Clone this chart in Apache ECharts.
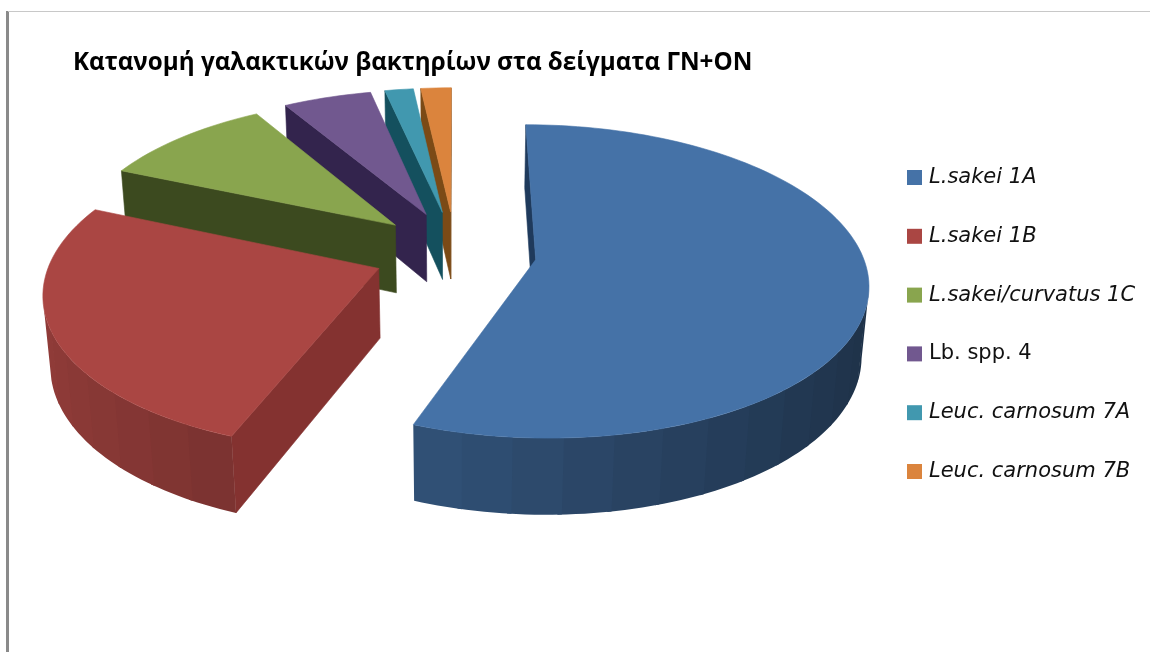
<!DOCTYPE html>
<html>
<head>
<meta charset="utf-8">
<style>html,body{margin:0;padding:0;background:#fff}#chart{width:1150px;height:652px}</style>
<script src="https://cdn.jsdelivr.net/npm/echarts@6/dist/echarts.min.js"></script>
</head>
<body>
<div id="chart"></div>
<script>
// Lactic acid bacteria shares, in percent
const categories = ['L.sakei 1A', 'L.sakei 1B', 'L.sakei/curvatus 1C', 'Lb. spp. 4', 'Leuc. carnosum 7A', 'Leuc. carnosum 7B'];
const shares = [55.8, 25.7, 10, 5.1, 1.65, 1.75];
const colors = ['#4572A7', '#AA4643', '#89A54E', '#71588F', '#4198AF', '#DB843D'];
const cutWallColors = ['#1f3a5c', '#843230', '#3c4a1f', '#33244d', '#14505e', '#7b4a16'];
const upright = [true, true, true, false, true, true];
const titleText = 'Κατανομή γαλακτικών βακτηρίων στα δείγματα ΓΝ+ΟΝ';

// Camera for the tilted pie: world units are pie radii
const view = { cx: 455, cy: 252, scale: 326, dist: 6.4, elev: 27.7 * Math.PI / 180, height: 0.243, explodeX: 0.25, explodeY: 0.275 };
const sinE = Math.sin(view.elev), cosE = Math.cos(view.elev);
const camera = [0, view.dist * cosE, view.dist * sinE];

function project(x, y, z) {
  const depth = y * cosE + z * sinE;
  const vert = y * sinE - z * cosE;
  const k = view.dist / (view.dist - depth);
  return [view.cx + x * view.scale * k, view.cy + vert * view.scale * k];
}

const total = shares.reduce((a, b) => a + b, 0);
const startAngle = i => shares.slice(0, i).reduce((a, b) => a + b, 0) / total * 2 * Math.PI;

// One exploded wedge: visible cut walls, rim strips, then the top face
function wedge(i, value, base) {
  const a0 = startAngle(i), a1 = a0 + value / total * 2 * Math.PI;
  const mid = (a0 + a1) / 2;
  const ax = Math.sin(mid) * view.explodeX, ay = -Math.cos(mid) * view.explodeY;
  const h = -view.height;
  const rim = a => [ax + Math.sin(a), ay - Math.cos(a)];
  const faces = (nx, ny, px, py) => nx * (camera[0] - px) + ny * (camera[1] - py) > 0;
  const children = [];
  const poly = (pts, fill, edge) => children.push({
    type: 'polygon',
    shape: { points: pts.map(p => project(p[0], p[1], p[2])) },
    style: edge ? { fill: fill, stroke: fill, lineWidth: 0.6 } : { fill: fill }
  });
  const cutWall = (a, nx, ny) => {
    if (faces(nx, ny, ax, ay)) {
      const r = rim(a);
      poly([[ax, ay, 0], [r[0], r[1], 0], [r[0], r[1], h], [ax, ay, h]], cutWallColors[i], true);
    }
  };
  cutWall(a0, -Math.cos(a0), -Math.sin(a0));
  cutWall(a1, Math.cos(a1), Math.sin(a1));

  // Rim strips overlap slightly so no background shows through the joins
  const stripSteps = Math.max(2, Math.ceil((a1 - a0) / 0.14));
  for (let s = 0; s < stripSteps; s++) {
    const a = a0 + (a1 - a0) * s / stripSteps;
    const b = a0 + (a1 - a0) * (s + 1) / stripSteps;
    const c = (a + b) / 2;
    const pieces = 6;
    const m = rim(c);
    if (!faces(Math.sin(c), -Math.cos(c), m[0], m[1])) continue;
    const upper = [], lower = [];
    const end = s + 1 < stripSteps ? b + 0.012 : b;
    for (let p = 0; p <= pieces; p++) {
      const r = rim(a + (end - a) * p / pieces);
      upper.push([r[0], r[1], 0]);
      lower.unshift([r[0], r[1], h]);
    }
    const light = 0.64 - 0.21 * Math.sin(c);
    poly(upper.concat(lower), echarts.color.lerp(light, ['#000000', base]), false);
  }

  const steps = Math.max(4, Math.ceil((a1 - a0) / 0.03));
  const topPts = [[ax, ay, 0]];
  for (let s = 0; s <= steps; s++) {
    const r = rim(a0 + (a1 - a0) * s / steps);
    topPts.push([r[0], r[1], 0]);
  }
  poly(topPts, base, true);
  return { type: 'group', children: children };
}

const chart = echarts.init(document.getElementById('chart'), null, { renderer: 'canvas' });
chart.setOption({
  backgroundColor: '#ffffff',
  animation: false,
  title: {
    text: titleText, left: 68, top: 46,
    textStyle: { fontFamily: 'Open Sans', fontWeight: 'bold', fontSize: 24.2, color: '#000000' }
  },
  legend: {
    orient: 'vertical', left: 902, top: 162, icon: 'rect', itemWidth: 15, itemHeight: 15, itemGap: 37.8,
    selectedMode: false,
    textStyle: { fontFamily: 'DejaVu Sans', fontSize: 21, color: '#111111', padding: [0, 0, 0, 2] },
    data: categories.map((name, i) => ({
      name: name,
      textStyle: { fontStyle: upright[i] ? 'italic' : 'normal', padding: [0, 0, 0, 2] }
    }))
  },
  graphic: [
    { type: 'rect', z: 0, shape: { x: 6, y: 11, width: 3, height: 641 }, style: { fill: '#8a8a8a' } },
    { type: 'rect', z: 0, shape: { x: 8, y: 11, width: 1142, height: 1 }, style: { fill: '#c8c8c8' } }
  ],
  series: categories.map((name, i) => ({
    type: 'custom',
    name: name,
    coordinateSystem: 'none',
    z: 6 - i,
    silent: true,
    itemStyle: { color: colors[i] },
    data: [[shares[i]]],
    renderItem: (params, api) => wedge(i, api.value(0), colors[i])
  }))
});
</script>
</body>
</html>
